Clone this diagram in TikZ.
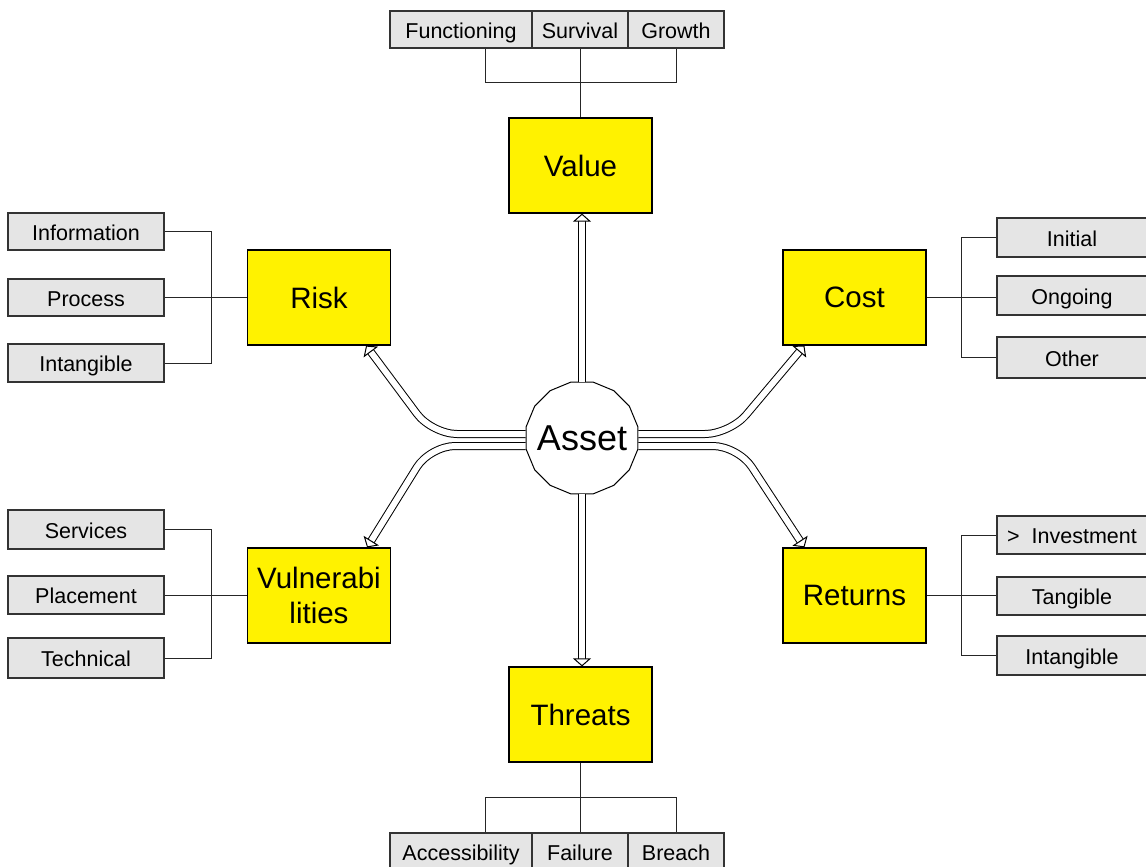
\documentclass[tikz,border=0pt]{standalone}
\usepackage{fontspec}
\setmainfont{Liberation Sans}
\usetikzlibrary{arrows.meta,shapes.geometric,calc}
\begin{document}
\begin{tikzpicture}[x=1pt,y=-1pt,
  ybox/.style={draw=black, line width=1.2pt, fill=yellow, inner sep=0pt, minimum width=143pt, minimum height=95pt, font=\fontsize{29.5}{35}\selectfont, align=center},
  gbox/.style={draw=black!80, line width=1.2pt, fill=black!10, inner sep=0pt, text height=17.5pt, text depth=0pt, font=\fontsize{21.5}{25}\selectfont},
  link/.style={line width=1pt, draw=black!85},
  dbl/.style={draw=black, double=white, double distance=6pt, line width=1pt, -{Triangle[open, fill=white, length=8pt, width=18pt, line width=1pt]}, rounded corners=25pt}
]
\useasboundingbox (0,0) rectangle (1146,867);
\fill[white] (0,0) rectangle (1146,867);

% central node
\node[draw, regular polygon, regular polygon sides=16, minimum size=114pt, inner sep=0pt, line width=1pt, font=\fontsize{36}{40}\selectfont] (asset) at (582,438) {\makebox[0pt]{Asset}};

% yellow boxes
\node[ybox] (value) at (580.5,165.5) {Value};
\node[ybox] (risk) at (319,297.5) {Risk};
\node[ybox] (cost) at (854.5,297.5) {Cost};
\node[ybox] (vul) at (319,595.5) {Vulnerabi\\lities};
\node[ybox] (ret) at (854.5,595.5) {Returns};
\node[ybox] (thr) at (580.5,714.5) {Threats};

% top row
\node[gbox, minimum width=142pt, minimum height=37pt] (fun) at (461,29.5) {Functioning};
\node[gbox, minimum width=96pt, minimum height=37pt] (sur) at (580,29.5) {Survival};
\node[gbox, minimum width=96pt, minimum height=37pt] (gro) at (676,29.5) {Growth};
% bottom row
\node[gbox, minimum width=142pt, minimum height=37pt] (acc) at (461,851.5) {Accessibility};
\node[gbox, minimum width=96pt, minimum height=37pt] (fai) at (580,851.5) {Failure};
\node[gbox, minimum width=96pt, minimum height=37pt] (bre) at (676,851.5) {Breach};
% left boxes
\node[gbox, minimum width=156pt, minimum height=37pt] (info) at (86,231.5) {Information};
\node[gbox, minimum width=156pt, minimum height=37pt] (proc) at (86,297.5) {Process};
\node[gbox, minimum width=156pt, minimum height=38pt] (intg) at (86,363) {Intangible};
\node[gbox, minimum width=156pt, minimum height=39pt] (serv) at (86,529.5) {Services};
\node[gbox, minimum width=156pt, minimum height=38pt] (plac) at (86,595) {Placement};
\node[gbox, minimum width=156pt, minimum height=40pt] (tech) at (86,658) {Technical};
% right boxes
\node[gbox, minimum width=150pt, minimum height=39pt] (init) at (1072,237.5) {Initial};
\node[gbox, minimum width=150pt, minimum height=39pt] (ong) at (1072,295.5) {Ongoing};
\node[gbox, minimum width=150pt, minimum height=41pt] (oth) at (1072,357.5) {Other};
\node[gbox, minimum width=150pt, minimum height=38pt] (inv) at (1072,535) {>\ \ Investment};
\node[gbox, minimum width=150pt, minimum height=38pt] (tan) at (1072,596) {Tangible};
\node[gbox, minimum width=150pt, minimum height=39pt] (intr) at (1072,655.5) {Intangible};

% bracket junctions
\coordinate (vb) at (580,83);
\coordinate (tb) at (580,797);
\coordinate (rb) at (211,297.5);
\coordinate (ub) at (211,595);
\coordinate (cb) at (961,297.5);
\coordinate (eb) at (961,595.5);

% value bracket
\draw[link] ([xshift=24pt]fun.south) |- (vb);
\draw[link] (gro.south) |- (vb);
\draw[link] (sur.south) -- (value.north -| sur.south);
% threats bracket
\draw[link] ([xshift=24pt]acc.north) |- (tb);
\draw[link] (bre.north) |- (tb);
\draw[link] (fai.north) -- (thr.south -| fai.north);
% risk bracket
\draw[link] (info.east) -| (rb);
\draw[link] (intg.east) -| (rb);
\draw[link] (proc.east) -- (risk.west);
% vulnerabilities bracket
\draw[link] (serv.east) -| (ub);
\draw[link] (tech.east) -| (ub);
\draw[link] (plac.east) -- (vul.west |- plac.east);
% cost bracket
\draw[link] (init.west) -| (cb);
\draw[link] (oth.west) -| (cb);
\draw[link] (cost.east) -- (cost.east -| ong.west);
% returns bracket
\draw[link] (inv.west) -| (eb);
\draw[link] (intr.west) -| (eb);
\draw[link] (ret.east) -- (ret.east -| tan.west);

% double arrows
\draw[dbl] (asset.north) -- (asset.north |- value.south);
\draw[dbl] (asset.south) -- (asset.south |- thr.north);
\draw[dbl] ([yshift=4pt]asset.west) -- (432,434) -- ([xshift=-25pt]risk.south east);
\draw[dbl] ([yshift=-8pt]asset.west) -- (430,446) -- ([xshift=-24pt]vul.north east);
\draw[dbl] ([yshift=4pt]asset.east) -- (730,434) -- ([xshift=22pt]cost.south west);
\draw[dbl] ([yshift=-8pt]asset.east) -- (738,446) -- ([xshift=22pt]ret.north west);
\end{tikzpicture}
\end{document}
